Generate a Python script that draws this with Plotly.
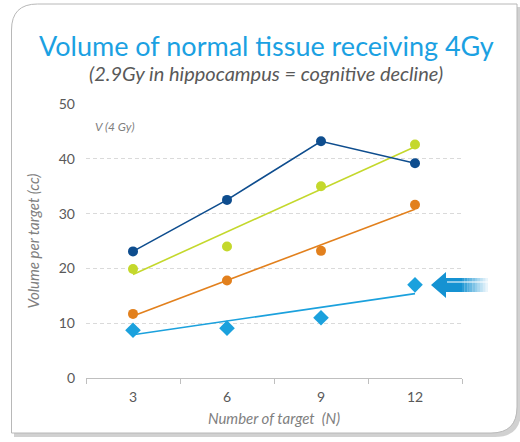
import plotly.graph_objects as go

# --- data ---
targets = ["3", "6", "9", "12"]
v4_dark = [23.1, 32.5, 43.2, 39.2]
v4_green = [19.9, 24.0, 35.0, 42.6]
v4_orange = [11.7, 17.8, 23.2, 31.6]
v4_hippo = [8.7, 9.1, 11.0, 17.0]

# trend line end points (at N=3 and N=12)
trend_x = ["3", "12"]
trend_green = [18.9, 42.2]
trend_orange = [11.3, 30.8]
trend_hippo = [7.9, 15.4]

DARK = "#0e4d8e"
GREEN = "#c4d82c"
ORANGE = "#e2801d"
LBLUE = "#1ba1dd"
GREY = "#595959"
LGREY = "#7f7f7f"
FONT = "Lato"

# plot area in pixels (used to place the decorations)
L, R, T, B = 86, 462, 104, 378
def px(x): return (x - L) / (R - L)
def py(y): return (B - y) / (B - T)

fig = go.Figure()
fig.add_trace(go.Scatter(x=trend_x, y=trend_green, mode="lines", line=dict(color=GREEN, width=1.6), hoverinfo="skip"))
fig.add_trace(go.Scatter(x=trend_x, y=trend_orange, mode="lines", line=dict(color=ORANGE, width=1.6), hoverinfo="skip"))
fig.add_trace(go.Scatter(x=trend_x, y=trend_hippo, mode="lines", line=dict(color=LBLUE, width=1.6), hoverinfo="skip"))
fig.add_trace(go.Scatter(x=targets, y=v4_dark, mode="lines+markers", line=dict(color=DARK, width=1.6), marker=dict(size=10, color=DARK)))
fig.add_trace(go.Scatter(x=targets, y=v4_green, mode="markers", marker=dict(size=10, color=GREEN)))
fig.add_trace(go.Scatter(x=targets, y=v4_orange, mode="markers", marker=dict(size=10, color=ORANGE)))
fig.add_trace(go.Scatter(x=targets, y=v4_hippo, mode="markers", marker=dict(size=12, color=LBLUE, symbol="diamond")))

# card with shadow, rounded top-left and bottom-right corners
def card(x0, y0, x1, y1, r):
    return (f"M {px(x0)} {py(y0 + r)} Q {px(x0)} {py(y0)} {px(x0 + r)} {py(y0)} "
            f"L {px(x1)} {py(y0)} L {px(x1)} {py(y1 - r)} Q {px(x1)} {py(y1)} {px(x1 - r)} {py(y1)} "
            f"L {px(x0)} {py(y1)} Z")

shapes = [
    dict(type="path", path=card(14, 7, 521, 437, 26), xref="paper", yref="paper",
         fillcolor="rgba(0,0,0,0.18)", line=dict(width=0), layer="below"),
    dict(type="path", path=card(11.5, 4, 517, 433, 26), xref="paper", yref="paper",
         fillcolor="white", line=dict(color="#b8b8b8", width=1), layer="below"),
]

# arrow pointing at the hippocampus series
shapes.append(dict(type="path", xref="paper", yref="paper", fillcolor="#1592d2", line=dict(width=0),
                   path=(f"M {px(431)} {py(285)} L {px(446)} {py(272)} L {px(446)} {py(278)} "
                         f"L {px(462)} {py(278)} L {px(462)} {py(292)} L {px(446)} {py(292)} "
                         f"L {px(446)} {py(298)} Z")))
steps = 10
for i in range(steps):
    a = 1 - (i + 1) / (steps + 1)
    shapes.append(dict(type="rect", xref="paper", yref="paper",
                       x0=px(462 + i * 2.6), x1=px(462 + (i + 1) * 2.6), y0=py(292), y1=py(278),
                       fillcolor=f"rgba(21,146,210,{a:.2f})", line=dict(width=0)))
shapes.append(dict(type="line", xref="paper", yref="paper", x0=px(447), x1=px(488), y0=py(282), y1=py(282),
                   line=dict(color="rgba(255,255,255,0.7)", width=1.5)))

annotations = [
    dict(text="Volume of normal tissue receiving 4Gy", x=px(266), y=py(46), xref="paper", yref="paper",
         showarrow=False, font=dict(family=FONT, size=27, color="#1ba1e2"), xanchor="center", yanchor="middle"),
    dict(text="<i>(2.9Gy in hippocampus = cognitive decline)</i>", x=px(266), y=py(73), xref="paper", yref="paper",
         showarrow=False, font=dict(family=FONT, size=20, color=GREY), xanchor="center", yanchor="middle"),
    dict(text="<i>V (4 Gy)</i>", x=px(93), y=py(127), xref="paper", yref="paper",
         showarrow=False, font=dict(family=FONT, size=12, color=LGREY), xanchor="left", yanchor="middle"),
]

fig.update_layout(
    width=520, height=442,
    margin=dict(l=L, r=520 - R, t=T, b=442 - B),
    paper_bgcolor="white", plot_bgcolor="rgba(0,0,0,0)",
    showlegend=False,
    font=dict(family=FONT, color=GREY),
    shapes=shapes, annotations=annotations,
    xaxis=dict(type="category", categoryorder="array", categoryarray=targets, range=[-0.5, 3.5],
               showgrid=False, showline=True, linecolor="#bfbfbf",
               ticks="outside", tickson="boundaries", ticklen=5, tickcolor="#bfbfbf",
               tickfont=dict(size=14, color=GREY), ticklabelstandoff=6,
               title=dict(text="<i>Number of target  (N)</i>", font=dict(size=15, color=LGREY), standoff=9)),
    yaxis=dict(range=[0, 50], dtick=10, showgrid=True, gridcolor="#dadada", griddash="4px,3px", zeroline=False,
               showline=False, ticks="", tickfont=dict(size=14, color=GREY), ticklabelstandoff=10,
               title=dict(text="<i>Volume per target (cc)</i>", font=dict(size=15, color=LGREY), standoff=15)),
)

fig.write_html("out.html", config={"displayModeBar": False},
               post_script="document.body.style.margin='0';")
